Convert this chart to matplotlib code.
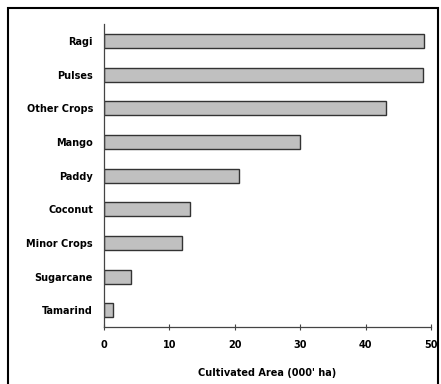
import matplotlib.pyplot as plt
from matplotlib.patches import Rectangle

crops = ["Ragi", "Pulses", "Other Crops", "Mango", "Paddy",
         "Coconut", "Minor Crops", "Sugarcane", "Tamarind"]
area = [49.0, 48.8, 43.2, 30.0, 20.6, 13.2, 11.9, 4.1, 1.4]
xticks = [0, 10, 20, 30, 40, 50]

fig = plt.figure(figsize=(4.41, 3.84), dpi=100)
ax = fig.add_axes([0.236, 0.148, 0.741, 0.789])

ypos = list(range(len(crops)))[::-1]
ax.barh(ypos, area, height=0.42, color="#c0c0c0", edgecolor="#333333", linewidth=1)

ax.set_ylim(-0.5, len(crops) - 0.5)
ax.set_xlim(0, 50)
ax.set_yticks(ypos)
ax.set_yticklabels(crops, fontsize=7, fontweight="bold")
ax.set_xticks(xticks)
ax.set_xticklabels([str(t) for t in xticks], fontsize=7, fontweight="bold")
ax.tick_params(axis="y", length=0, pad=8)
ax.tick_params(axis="x", direction="inout", length=4, width=0.8, color="#444444", pad=7)
ax.set_xlabel("Cultivated Area (000' ha)", fontsize=7, fontweight="bold", labelpad=13)

for side in ["top", "right"]:
    ax.spines[side].set_visible(False)
for side in ["left", "bottom"]:
    ax.spines[side].set_color("#444444")
    ax.spines[side].set_linewidth(0.9)

# outer frame (bottom edge runs off the canvas like the original)
fig.patches.append(Rectangle((0.019, -0.02), 0.974, 0.999, transform=fig.transFigure,
                             fill=False, edgecolor="black", linewidth=1.5))

fig.savefig("out.png", dpi=100)
